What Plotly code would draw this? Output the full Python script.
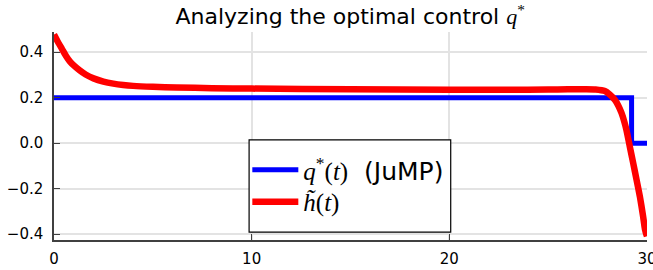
import plotly.graph_objects as go

# optimal control from JuMP (step)
t_q = [0.0, 29.22, 30.0]
q_vals = [0.2, 0.0, 0.0]

# approximation h~(t), values
t_h = [0, 0.2, 0.4, 0.6, 0.8, 1.0, 1.3, 1.6, 2.0, 2.5, 3.0, 3.5, 4.0, 5.0, 6.2, 8.0, 10, 15, 20, 23,
       25, 26.0, 26.86, 27.4, 27.87, 28.1, 28.38, 28.55, 28.71, 28.85, 28.96, 29.13, 29.3, 29.47,
       29.64, 29.8, 29.9, 30]
h_vals = [0.478, 0.445, 0.415, 0.385, 0.36, 0.342, 0.32, 0.302, 0.285, 0.271, 0.262, 0.256, 0.252,
          0.248, 0.245, 0.242, 0.240, 0.237, 0.235, 0.235, 0.236, 0.237, 0.237, 0.236, 0.229, 0.215,
          0.19, 0.165, 0.133, 0.095, 0.058, -0.015, -0.087, -0.16, -0.235, -0.32, -0.38, -0.41]

x_ticks = [0, 10, 20, 30]
y_ticks = [-0.4, -0.2, 0.0, 0.2, 0.4]
y_ticklabels = ["\u22120.4", "\u22120.2", "0.0", "0.2", "0.4"]

SERIF = "Liberation Serif"
lab_q = (f'<span style="font-family:{SERIF}"><i>q</i><sup>*</sup>(<i>t</i>)</span>  (JuMP)')
lab_h = (f'<span style="font-family:{SERIF}"><i>h\u0303</i>(<i>t</i>)</span>')

fig = go.Figure()
fig.add_trace(go.Scatter(x=t_q, y=q_vals, mode="lines", line=dict(color="#0000ff", width=5, shape="hv"),
                         name=lab_q, legend="legend"))
fig.add_trace(go.Scatter(x=t_h, y=h_vals, mode="lines",
                         line=dict(color="#ff0000", width=6.5, shape="spline", smoothing=0.6),
                         name=lab_h, legend="legend2"))

fig.add_shape(type="rect", xref="paper", yref="paper", x0=0.329, x1=0.669, y0=0.038, y1=0.481,
              line=dict(color="black", width=1.2), fillcolor="white", layer="above")

leg_common = dict(xanchor="left", yanchor="middle", bgcolor="rgba(0,0,0,0)", borderwidth=0,
                  font=dict(size=25, family="DejaVu Sans"), itemwidth=46)

fig.update_layout(
    width=653, height=270,
    margin=dict(l=54, r=6, t=32, b=30, autoexpand=False),
    paper_bgcolor="white", plot_bgcolor="white",
    font=dict(family="DejaVu Sans", color="black", size=15),
    title=dict(text=f'Analyzing the optimal control <span style="font-family:{SERIF}"><i>q</i><sup>*</sup></span>',
               x=0.5363, xanchor="center", y=0.94, yanchor="middle", font=dict(size=22)),
    showlegend=True,
    legend=dict(x=0.326, y=0.3365, **leg_common),
    legend2=dict(x=0.326, y=0.1827, **leg_common),
    xaxis=dict(range=[0, 30], tickvals=x_ticks, showgrid=True, gridcolor="#e3e3e3", gridwidth=1.5,
               showline=True, linecolor="#404040", linewidth=1.5, ticks="inside", ticklen=6,
               tickcolor="#404040", zeroline=False, ticklabelstandoff=4, automargin=False,
               ticklabeloverflow="allow"),
    yaxis=dict(range=[-0.426, 0.489], tickvals=y_ticks, ticktext=y_ticklabels, showgrid=True,
               gridcolor="#e3e3e3", gridwidth=1.5, showline=True, linecolor="#404040", linewidth=1.5,
               ticks="inside", ticklen=6, tickcolor="#404040", zeroline=False, ticklabelstandoff=6,
               automargin=False, ticklabeloverflow="allow"),
)

fig.write_html("out.html", config={"displayModeBar": False},
               post_script="document.body.style.margin='0';document.body.style.overflow='hidden';")
